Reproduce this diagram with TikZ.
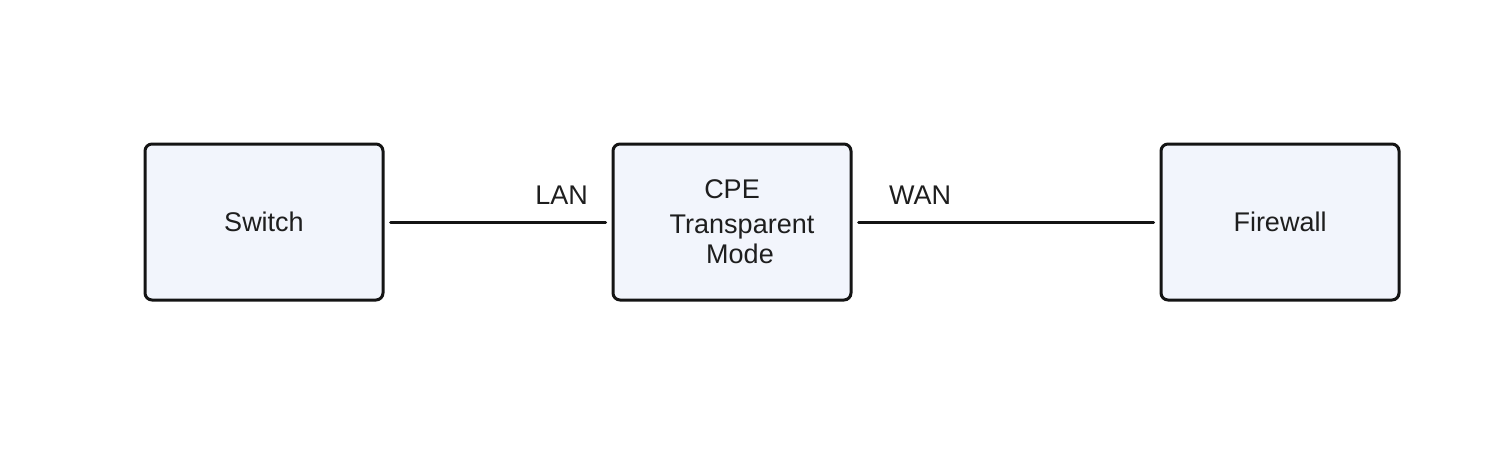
\documentclass[tikz,border=0pt]{standalone}
\usepackage{fontspec}
\setmainfont{Liberation Sans}
\usepackage{tikz}
\usetikzlibrary{
  arrows.meta,
  positioning,
  calc
}
\definecolor{cpeFill}{HTML}{F2F5FC}
\definecolor{cpeLine}{HTML}{141414}
\definecolor{cpeText}{HTML}{1E1E1E}
\tikzset{
  devnode/.style={
    draw=cpeLine, fill=cpeFill, rounded corners=3.5pt, line width=1.5pt,
    minimum width=119pt, minimum height=78pt, inner sep=0pt,
    font=\fontsize{13.5}{15}\selectfont, text=cpeText, align=center
  },
  link/.style={line width=1.5pt, cpeLine, line cap=round, shorten <=3pt, shorten >=3pt},
  linktag/.style={font=\fontsize{13.5}{15}\selectfont, text=cpeText, inner sep=0pt, yshift=8pt}
}
\begin{document}
\begin{tikzpicture}[node distance=113pt]
  \useasboundingbox (0,0) rectangle (746pt,-225pt);
  \node[devnode] (sw) at (132pt,-111pt) {Switch};
  \node[devnode, right=113.5pt of sw] (cpe) {CPE\hspace{3pt}\\[2.5pt]\hspace{10pt}Transparent\\\hspace{8pt}Mode};
  \node[devnode, right=153.5pt of cpe] (fw) {Firewall};
  \draw[link] (sw) -- node[linktag, pos=0.78, above] {LAN} (cpe);
  \draw[link] (cpe) -- node[linktag, pos=0.22, above] {WAN} (fw);
\end{tikzpicture}
\end{document}
